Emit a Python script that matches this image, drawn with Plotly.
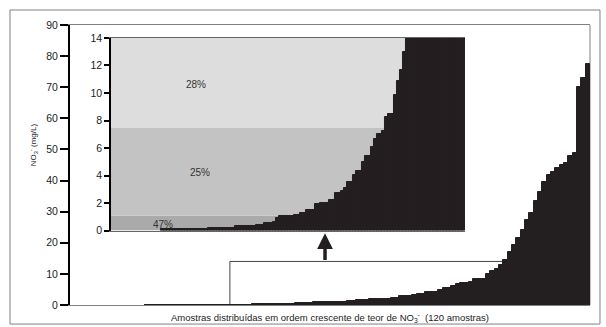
import plotly.graph_objects as go

# NO3- (mg/L) for 120 samples, sorted ascending
values = (
    [0.0] * 17 + [0.1] * 16 + [0.2] * 9 + [0.3] * 7 + [0.42] * 3 + [0.55] * 3 +
    [0.6, 0.9, 1.05, 1.05, 1.08, 1.08, 1.08, 1.1, 1.1,
     1.27, 1.3, 1.5, 1.5, 1.5, 1.9, 1.9, 2.0, 2.0, 2.0, 2.25, 2.25, 2.75, 2.75,
     2.9, 3.1, 3.5, 3.5, 4.04, 4.3, 4.3, 4.95, 5.4, 5.4, 6.05, 6.66, 7.0, 7.0,
     7.27, 8.25, 8.5, 8.5, 9.84, 10.9, 11.7, 13.0,
     14.5, 17.1, 19.3, 21.4, 24.1, 27.3, 29.5, 33.5, 36.4, 39.6, 41.8, 42.9,
     43.9, 45.0, 45.5, 47.9, 49.0, 70.2, 72.9, 77.5]
)
samples = list(range(len(values)))

main_ticks = [0, 10, 20, 30, 40, 50, 60, 70, 80, 90]
inset_ticks = [0, 2, 4, 6, 8, 10, 12, 14]
band_limits = [0, 1.1, 7.45, 14]
band_colors = ["#aaaaaa", "#c3c3c3", "#dddddd"]
band_labels = ["47%", "25%", "28%"]
band_label_pos = [(0.114, 0.47), (0.217, 4.2), (0.205, 10.63)]

bar_color = "#231f20"
font = "Arial, Liberation Sans, sans-serif"

# outline only on bars tall enough to be visible at each scale (hides seams between bars)
main_lw = [1.0 if v >= 0.3 else 0 for v in values]
inset_lw = [1.0 if v > 0 else 0 for v in values]

fig = go.Figure()
fig.add_trace(go.Bar(x=samples, y=values, marker=dict(color=bar_color, line=dict(width=main_lw, color=bar_color)),
                     xaxis="x", yaxis="y", showlegend=False, hoverinfo="skip"))
fig.add_trace(go.Bar(x=samples, y=values, marker=dict(color=bar_color, line=dict(width=inset_lw, color=bar_color)),
                     xaxis="x2", yaxis="y2", showlegend=False, hoverinfo="skip"))

shapes = []
# outer frame
shapes.append(dict(type="rect", xref="paper", yref="paper", x0=-0.1154, x1=1.0192, y0=-0.068, y1=1.0536,
                   line=dict(color="#808080", width=1), layer="below"))
# right border of main plot
shapes.append(dict(type="line", xref="x domain", yref="y domain", x0=1, x1=1, y0=0, y1=1,
                   line=dict(color="#808080", width=1), layer="below"))
# zoom box
shapes.append(dict(type="rect", xref="x", yref="y", x0=36.4, x1=119.5, y0=0, y1=14,
                   line=dict(color="#444444", width=1), layer="below"))
# inset bands
for i, c in enumerate(band_colors):
    shapes.append(dict(type="rect", xref="x2 domain", yref="y2", x0=0, x1=1,
                       y0=band_limits[i], y1=band_limits[i + 1], fillcolor=c, line=dict(width=0), layer="below"))

annotations = []
for lab, (px, py) in zip(band_labels, band_label_pos):
    annotations.append(dict(text=lab, xref="x2 domain", yref="y2", x=px, y=py, showarrow=False,
                            font=dict(size=10, color="#333333", family=font)))
# arrow from zoom box to inset
annotations.append(dict(text="", xref="x", yref="y", x=58.35, y=23.1, axref="x", ayref="y", ax=58.35, ay=14,
                        showarrow=True, arrowhead=2, arrowsize=0.9, arrowwidth=3.5, arrowcolor=bar_color))
annotations.append(dict(text="NO<sub>3</sub><sup>-</sup> (mg/L)", xref="paper", yref="paper", x=-0.071, y=0.571,
                        xanchor="center", yanchor="middle",
                        textangle=-90, showarrow=False, font=dict(size=8, color="#222222", family=font)))
annotations.append(dict(text="Amostras distribuídas em ordem crescente de teor de NO<sub>3</sub><sup>-</sup>  (120 amostras)",
                        xref="paper", yref="paper", x=0.5, y=-0.043, xanchor="center", yanchor="middle",
                        showarrow=False, font=dict(size=9.5, color="#222222", family=font)))

fig.update_layout(
    width=606, height=327,
    margin=dict(l=70, r=16, t=25, b=22),
    paper_bgcolor="white", plot_bgcolor="rgba(0,0,0,0)",
    bargap=0,
    font=dict(family=font, size=10, color="#222222"),
    shapes=shapes, annotations=annotations,
    xaxis=dict(range=[-0.5, 119.5], showticklabels=False, ticks="", showgrid=False, zeroline=False,
               showline=True, linecolor="#808080", linewidth=1, mirror=True),
    yaxis=dict(range=[0, 90], tickvals=main_ticks, ticks="outside", ticklen=8, tickwidth=1.5, tickcolor="black",
               showgrid=False, zeroline=False, showline=True, linecolor="black", linewidth=2,
               tickfont=dict(size=10.5, family=font, color="#222222")),
    xaxis2=dict(domain=[0.0788, 0.7596], anchor="y2", range=[-0.5, 119.5], showticklabels=False, ticks="",
                showgrid=False, zeroline=False, showline=True, linecolor="#666666", linewidth=1, mirror=True),
    yaxis2=dict(domain=[0.266, 0.9536], anchor="x2", range=[0, 14], tickvals=inset_ticks, ticks="outside",
                ticklen=5, tickwidth=1.5, tickcolor="black", showgrid=False, zeroline=False, showline=True,
                linecolor="black", linewidth=1.5, tickfont=dict(size=10.5, family=font, color="#222222")),
)

fig.write_html("out.html", config={"displayModeBar": False},
               post_script="document.body.style.margin='0';document.body.style.overflow='hidden';")
